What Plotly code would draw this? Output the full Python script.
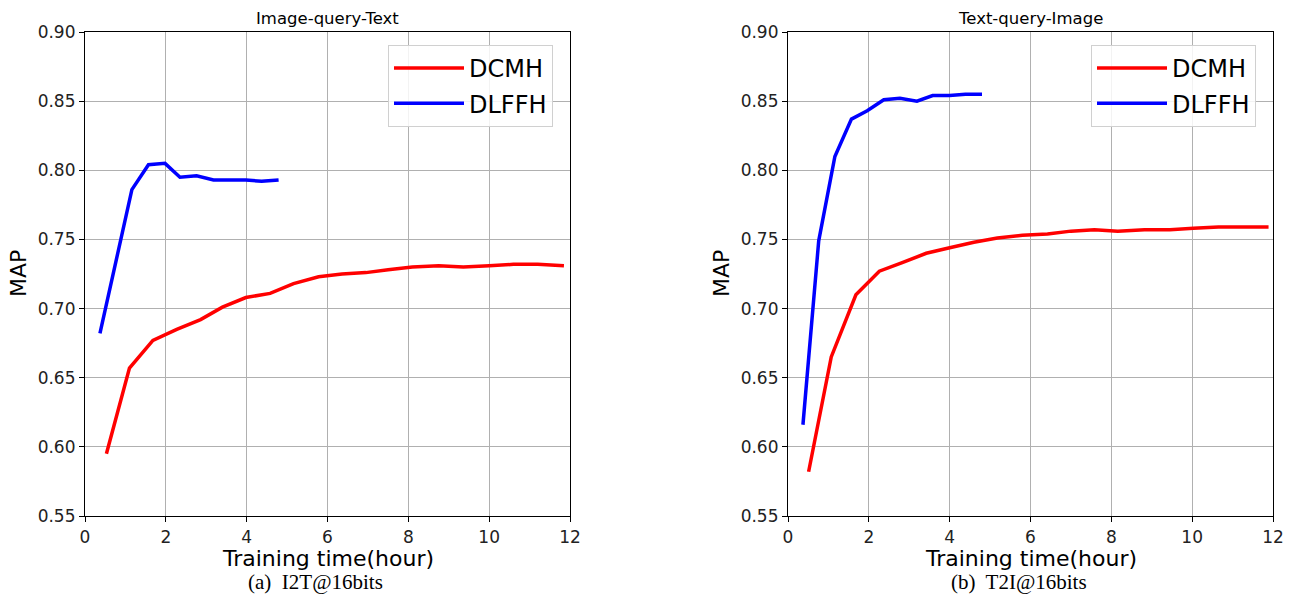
import plotly.graph_objects as go

W, H = 1297, 596

# Left: Image-query-Text
i2t_dcmh_x = [0.53, 1.1, 1.68, 2.27, 2.86, 3.4, 3.98, 4.58, 5.16, 5.78, 6.36, 6.95, 7.5, 8.1, 8.75, 9.36, 10.0, 10.6, 11.2, 11.85]
i2t_dcmh_y = [0.595, 0.657, 0.677, 0.685, 0.692, 0.701, 0.708, 0.711, 0.718, 0.723, 0.725, 0.726, 0.728, 0.730, 0.731, 0.730, 0.731, 0.732, 0.732, 0.731]
i2t_dlffh_x = [0.37, 0.77, 1.16, 1.57, 1.98, 2.35, 2.76, 3.18, 3.58, 3.98, 4.37, 4.79]
i2t_dlffh_y = [0.682, 0.734, 0.786, 0.804, 0.805, 0.795, 0.796, 0.793, 0.793, 0.793, 0.792, 0.793]

# Right: Text-query-Image
t2i_dcmh_x = [0.51, 1.07, 1.68, 2.26, 2.81, 3.42, 4.0, 4.6, 5.18, 5.8, 6.42, 7.0, 7.58, 8.16, 8.82, 9.45, 10.03, 10.65, 11.3, 11.89]
t2i_dcmh_y = [0.582, 0.665, 0.710, 0.727, 0.733, 0.740, 0.744, 0.748, 0.751, 0.753, 0.754, 0.756, 0.757, 0.756, 0.757, 0.757, 0.758, 0.759, 0.759, 0.759]
t2i_dlffh_x = [0.37, 0.76, 1.16, 1.57, 1.96, 2.37, 2.77, 3.19, 3.58, 4.0, 4.39, 4.80]
t2i_dlffh_y = [0.616, 0.749, 0.810, 0.837, 0.843, 0.851, 0.852, 0.850, 0.854, 0.854, 0.855, 0.855]

x_ticks = [0, 2, 4, 6, 8, 10, 12]
y_ticks = [0.55, 0.60, 0.65, 0.70, 0.75, 0.80, 0.85, 0.90]
titles = ["Image-query-Text", "Text-query-Image"]
captions = ["(a)  I2T@16bits", "(b)  T2I@16bits"]
series_names = ["DCMH", "DLFFH"]
series_colors = ["#ff0000", "#0000ff"]

FONT = "DejaVu Sans"

def px_x(p):
    return p / W

def px_y(p):
    return 1 - p / H

left_dom = [px_x(85), px_x(570)]
right_dom = [px_x(788), px_x(1273)]
y_dom = [px_y(516), px_y(32)]

fig = go.Figure()

panels = [
    (i2t_dcmh_x, i2t_dcmh_y, i2t_dlffh_x, i2t_dlffh_y, "x", "y", "legend"),
    (t2i_dcmh_x, t2i_dcmh_y, t2i_dlffh_x, t2i_dlffh_y, "x2", "y2", "legend2"),
]
for (ax, ay, bx, by, xa, ya, lg) in panels:
    for name, col, xs, ys in [(series_names[0], series_colors[0], ax, ay),
                              (series_names[1], series_colors[1], bx, by)]:
        fig.add_trace(go.Scatter(x=xs, y=ys, mode="lines", name=name,
                                 line=dict(color=col, width=3.5),
                                 xaxis=xa, yaxis=ya, legend=lg,
                                 legendgroup=name + lg, showlegend=True))

axis_common = dict(
    showline=True, linecolor="black", linewidth=1.2, mirror=True,
    ticks="outside", ticklen=5, tickcolor="black", tickwidth=1,
    showgrid=True, gridcolor="#b0b0b0", gridwidth=1, zeroline=False,
    automargin=False,
    tickfont=dict(family=FONT, size=17, color="#222222"),
)

legend_common = dict(
    xanchor="left", yanchor="top",
    bgcolor="rgba(255,255,255,0.85)", bordercolor="#d0d0d0", borderwidth=1,
    font=dict(family=FONT, size=24, color="black"),
    tracegroupgap=1, traceorder="grouped", itemwidth=70,
)

fig.update_layout(
    width=W, height=H,
    margin=dict(l=0, r=0, t=0, b=0, autoexpand=False),
    paper_bgcolor="white", plot_bgcolor="white",
    xaxis=dict(domain=left_dom, range=[0, 12], tickvals=x_ticks, anchor="y", **axis_common),
    yaxis=dict(domain=y_dom, range=[0.55, 0.90], tickvals=y_ticks, tickformat=".2f", anchor="x", **axis_common),
    xaxis2=dict(domain=right_dom, range=[0, 12], tickvals=x_ticks, anchor="y2", **axis_common),
    yaxis2=dict(domain=y_dom, range=[0.55, 0.90], tickvals=y_ticks, tickformat=".2f", anchor="x2", **axis_common),
    legend=dict(x=px_x(388), y=px_y(45), **legend_common),
    legend2=dict(x=px_x(1091), y=px_y(45), **legend_common),
    showlegend=True,
)

annots = []
for i, (dom, ttl, cap) in enumerate([(left_dom, titles[0], captions[0]), (right_dom, titles[1], captions[1])]):
    cx = (dom[0] + dom[1]) / 2
    annots.append(dict(text=ttl, x=cx, y=px_y(18), xref="paper", yref="paper",
                       showarrow=False, font=dict(family=FONT, size=16.5, color="black"),
                       xanchor="center", yanchor="middle"))
    annots.append(dict(text="Training time(hour)", x=cx, y=px_y(558), xref="paper", yref="paper",
                       showarrow=False, font=dict(family=FONT, size=22, color="black"),
                       xanchor="center", yanchor="middle"))
    annots.append(dict(text=cap, x=cx - 12 / W, y=px_y(582), xref="paper", yref="paper",
                       showarrow=False, font=dict(family="Liberation Serif", size=21, color="black"),
                       xanchor="center", yanchor="middle"))
    annots.append(dict(text="MAP", x=dom[0] - 67 / W, y=(y_dom[0] + y_dom[1]) / 2,
                       xref="paper", yref="paper", textangle=-90,
                       showarrow=False, font=dict(family=FONT, size=22, color="black"),
                       xanchor="center", yanchor="middle"))
fig.update_layout(annotations=annots)

fig.write_html(
    "out.html",
    config={"displayModeBar": False},
    post_script="document.documentElement.style.margin='0';document.body.style.margin='0';"
                "document.body.style.overflow='hidden';document.documentElement.style.overflow='hidden';",
)
